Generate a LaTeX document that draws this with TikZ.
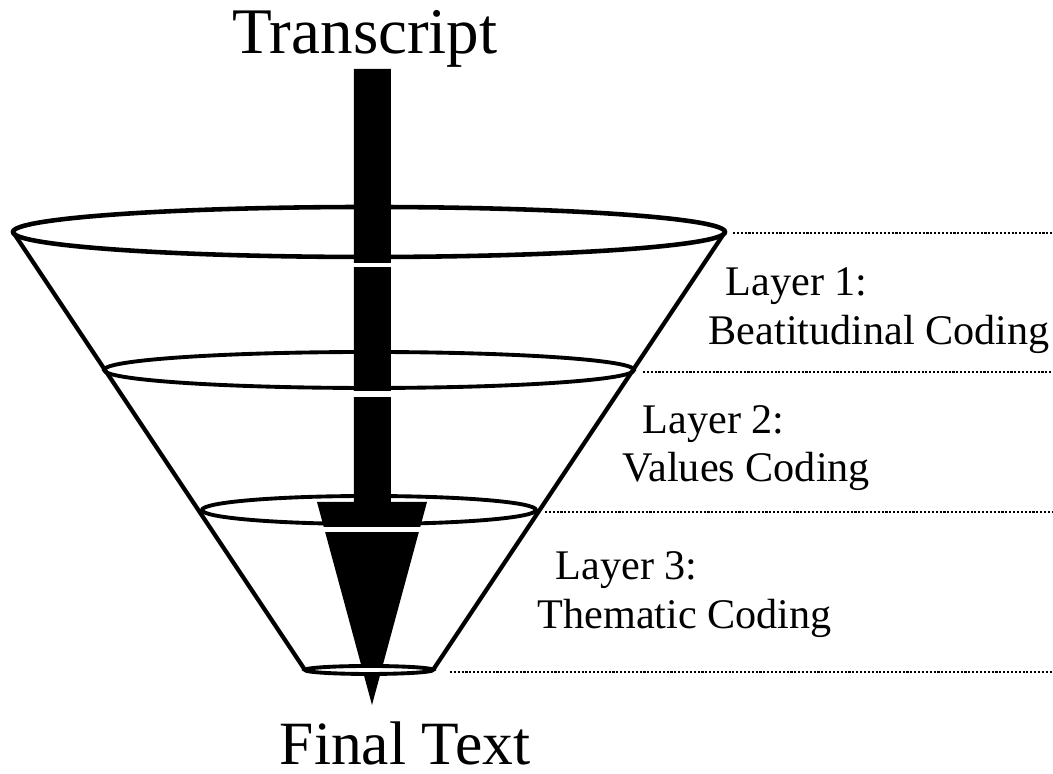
\documentclass[tikz,border=0pt]{standalone}
\usepackage{fontspec}
\setmainfont{Liberation Serif}
\usepackage{tikz}
\usetikzlibrary{calc}
\tikzset{
  rim/.style={draw=black, line width=1.3pt},
  rimthin/.style={draw=black, line width=1.1pt},
  cone/.style={draw=black, line width=1.2pt},
  guide/.style={draw=black, line width=0.7pt, dash pattern=on 0.6pt off 0.5pt},
  gap/.style={fill=white, draw=none},
  big/.style={font=\fontsize{18.5}{22}\selectfont, inner sep=0pt},
  lbl/.style={font=\fontsize{12}{14}\selectfont, inner sep=0pt, anchor=base west}
}
\begin{document}
\begin{tikzpicture}[x=0.01cm, y=-0.01cm]
  \useasboundingbox (0,0) rectangle (1053,774);
  % Pfeil
  \fill (354,69) -- (391,69) -- (391,502) -- (427,502) -- (372,705)
        -- (317,502) -- (354,502) -- cycle;
  \fill[gap] (300,263) rectangle (440,267);
  \fill[gap] (300,391) rectangle (440,397);
  \fill[gap] (300,527) rectangle (440,532);
  % Trichter
  \coordinate (c1) at (369,232);
  \coordinate (c2) at (369,370);
  \coordinate (c3) at (369,510);
  \coordinate (c4) at (369,670);
  \draw [cone] (13,232) -- (305,670);
  \draw [cone] (725,232) -- (433,670);
  \draw [rim] (c1) ellipse [x radius=356, y radius=25];
  \draw [rimthin] (c2) ellipse [x radius=265, y radius=18];
  \draw [rimthin] (c3) ellipse [x radius=167, y radius=14];
  \draw [rimthin, fill=white] (c4) ellipse [x radius=64, y radius=4];
  % Ebenen
  \draw [guide] (733,233) -- (1053,233);
  \draw [guide] (643,372) -- (1053,372);
  \draw [guide] (545,512) -- (1053,512);
  \draw [guide] (450,672) -- (1053,672);
  \node (transcript) [big, anchor=base] at (365,54) {Transcript};
  \node (final) [big, font=\fontsize{17.5}{21}\selectfont, anchor=base] at (405,765) {Final Text};
  \node (lay1) [lbl] at (725,296) {Layer 1:};
  \node (cod1) [lbl] at (708,345) {Beatitudinal Coding};
  \node (lay2) [lbl] at (642,434) {Layer 2:};
  \node (cod2) [lbl] at (622,482) {Values Coding};
  \node (lay3) [lbl] at (555,580) {Layer 3:};
  \node (cod3) [lbl] at (537,629) {Thematic Coding};
\end{tikzpicture}
\end{document}
